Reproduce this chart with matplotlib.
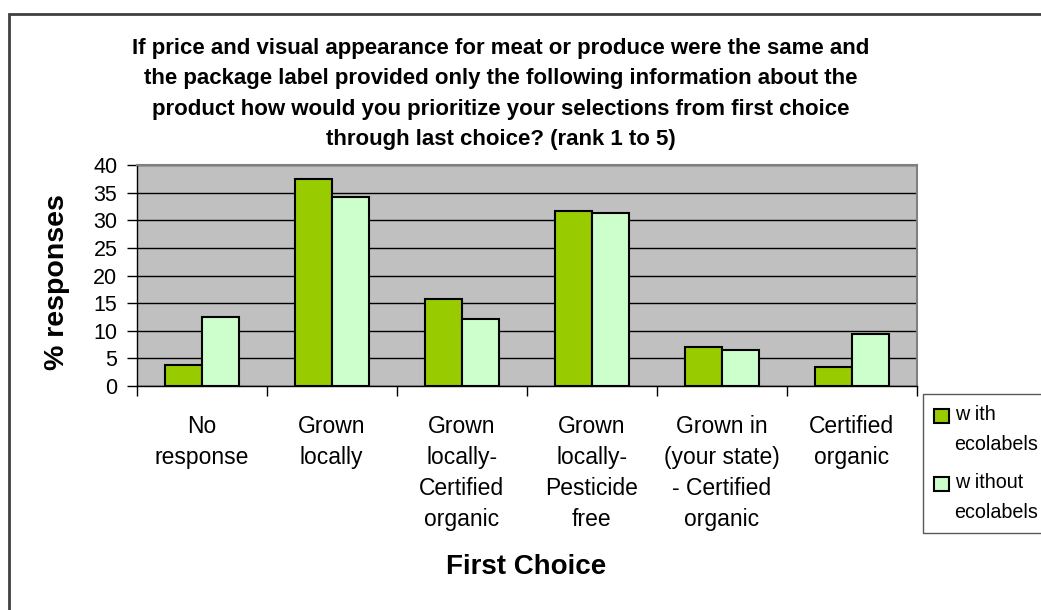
import matplotlib.pyplot as plt
import numpy as np
from matplotlib.patches import Rectangle

# ---------------- data ----------------
categories = ['No\nresponse', 'Grown\nlocally', 'Grown\nlocally-\nCertified\norganic',
              'Grown\nlocally-\nPesticide\nfree', 'Grown in\n(your state)\n- Certified\norganic',
              'Certified\norganic']
with_eco = [3.8, 37.4, 15.7, 31.7, 7.1, 3.5]
without_eco = [12.5, 34.2, 12.2, 31.4, 6.5, 9.4]
series_names = ['w ith\necolabels', 'w ithout\necolabels']
title = ('If price and visual appearance for meat or produce were the same and\n'
         'the package label provided only the following information about the\n'
         'product how would you prioritize your selections from first choice\n'
         'through last choice? (rank 1 to 5)')

plt.rcParams['font.family'] = ['Liberation Sans', 'DejaVu Sans']

W, H = 1041, 610
fig = plt.figure(figsize=(W / 100, H / 100), dpi=100)
ax = fig.add_axes([136.7 / W, 1 - 386 / H, (916.7 - 136.7) / W, (386 - 165) / H])

x = np.arange(len(categories))
bw = 0.285
ax.bar(x - bw / 2, with_eco, bw, color='#99CC00', edgecolor='black', linewidth=1.5,
       label=series_names[0], zorder=3)
ax.bar(x + bw / 2, without_eco, bw, color='#CCFFCC', edgecolor='black', linewidth=1.5,
       label=series_names[1], zorder=3)

ax.set_facecolor('#C0C0C0')
ax.set_xlim(-0.5, len(categories) - 0.5)
ax.set_ylim(0, 40)
ax.set_yticks(range(0, 41, 5))
ax.yaxis.grid(True, color='black', linewidth=1, zorder=1)
ax.set_axisbelow(True)

ax.set_xticks(x)
ax.set_xticklabels(categories, fontsize=16.5, linespacing=1.45, va='top')
ax.set_xticks(np.arange(-0.5, len(categories)), minor=True)
ax.tick_params(axis='x', which='major', length=0, pad=21)
ax.tick_params(axis='x', which='minor', length=7, width=1, direction='out')
ax.tick_params(axis='y', labelsize=15.5, length=7, width=1, direction='out', pad=7)

for s in ['top', 'right']:
    ax.spines[s].set_color('#808080')
    ax.spines[s].set_linewidth(1.5)
for s in ['left', 'bottom']:
    ax.spines[s].set_color('black')
    ax.spines[s].set_linewidth(1)

fig.text(501 / W, 1 - 94 / H, title, ha='center', va='center', fontsize=16,
         fontweight='bold', linespacing=1.6)
fig.text(57 / W, 1 - 282 / H, '% responses', rotation=90, ha='center', va='center',
         fontsize=20.5, fontweight='bold')
fig.text(526 / W, 1 - 567 / H, 'First Choice', ha='center', va='center',
         fontsize=20, fontweight='bold')

leg = fig.legend(loc='upper left', bbox_to_anchor=(923 / W, 1 - 394 / H),
                 fontsize=14.2, frameon=True, fancybox=False, edgecolor='#303030',
                 handlelength=0.75, handleheight=0.68, handletextpad=0.3,
                 labelspacing=0.95, borderpad=0.55, borderaxespad=0)
leg.get_frame().set_linewidth(1)
for t in leg.get_texts():
    t.set_linespacing(1.75)
# Excel puts the swatch next to the first text line
for h in leg.legend_handles:
    h.set_y(h.get_y() + 10)

# outer chart border
fig.patches.append(Rectangle((9 / W, -0.1), 2, 1 - 14 / H + 0.1, transform=fig.transFigure,
                             fill=False, edgecolor='#404040', linewidth=2))

fig.savefig('out.png', dpi=100)
